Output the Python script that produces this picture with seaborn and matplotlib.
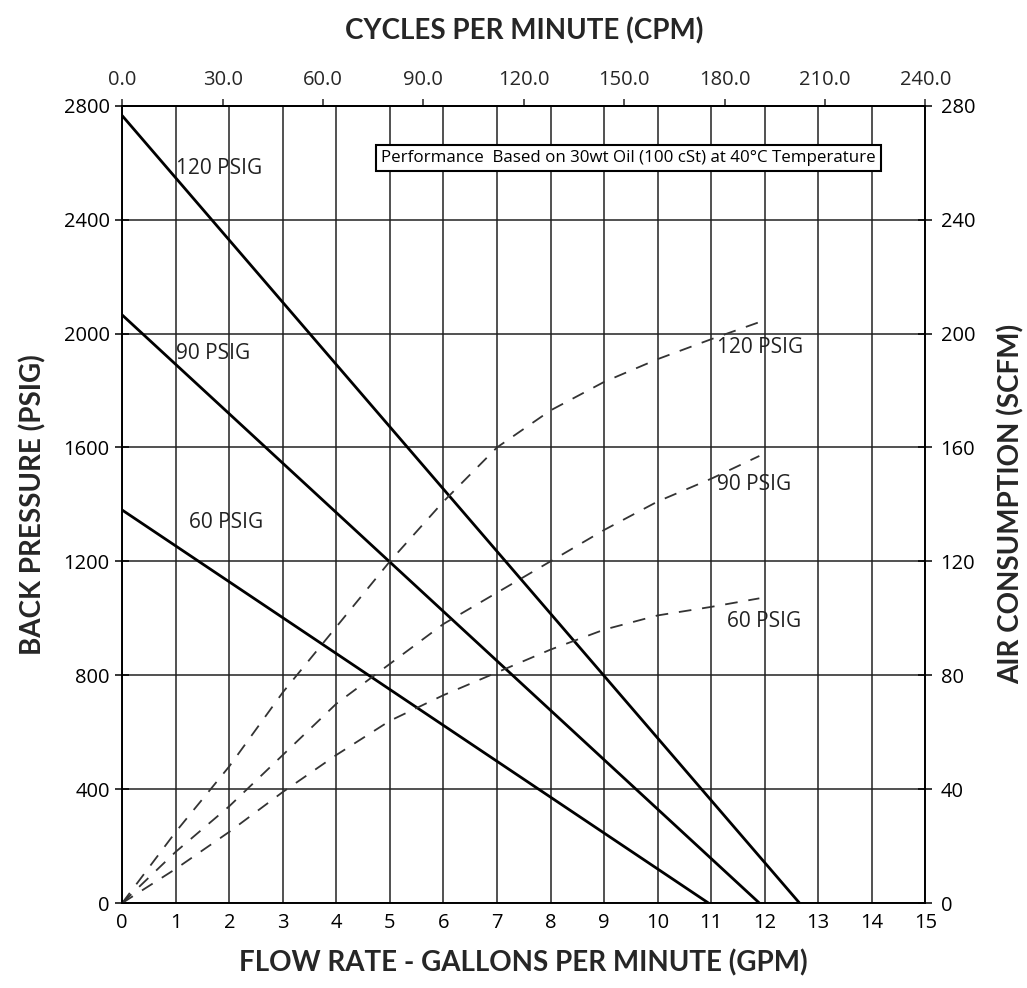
"""Pump performance chart: back pressure and air consumption vs flow rate."""

import matplotlib

matplotlib.use("Agg")
import matplotlib.pyplot as plt
import numpy as np
import pandas as pd
import seaborn as sns

# back pressure lines (left axis, PSIG) -- straight lines, start and end
PRESSURE_LABELS = ["120 PSIG", "90 PSIG", "60 PSIG"]
PRESSURE_FLOW = [[0.0, 12.65], [0.0, 11.9], [0.0, 10.95]]
PRESSURE_BACK = [[2765, 0], [2065, 0], [1380, 0]]

# air consumption curves (right axis, SCFM)
AIR_FLOW = [0, 1, 2, 3, 4, 5, 6, 7, 8, 9, 10, 11, 11.9]
AIR_120 = [0, 25, 48, 74, 97, 120, 141, 160, 173, 183, 191, 198, 204]
AIR_90 = [0, 18, 34, 52, 70, 84, 98, 109, 120, 131, 141, 149, 157]
AIR_60 = [0, 12, 25, 39, 52, 64, 73, 81, 89, 96, 101, 104, 107]

GPM_TICKS = list(range(0, 16))
PSIG_TICKS = [0, 400, 800, 1200, 1600, 2000, 2400, 2800]
SCFM_TICKS = [0, 40, 80, 120, 160, 200, 240, 280]
CPM_TICKS = [0, 30, 60, 90, 120, 150, 180, 210, 240]
CPM_PER_GPM = 16.0

NOTE = "Performance  Based on 30wt Oil (100 cSt) at 40\u00b0C Temperature"
LABEL_FONT = ["Lato", "DejaVu Sans"]

sns.set_theme(style="white")
plt.rcParams["font.family"] = ["Open Sans", "DejaVu Sans"]
plt.rcParams["axes.edgecolor"] = "black"
plt.rcParams["axes.linewidth"] = 1.2

fig = plt.figure(figsize=(10.27, 9.88), dpi=100)
ax = fig.add_axes([0.119, 0.086, 0.782, 0.807])

pressure_df = pd.concat(
    [
        pd.DataFrame({"gpm": flow, "psig": back, "series": name})
        for name, flow, back in zip(PRESSURE_LABELS, PRESSURE_FLOW, PRESSURE_BACK)
    ]
)
sns.lineplot(
    data=pressure_df,
    x="gpm",
    y="psig",
    units="series",
    estimator=None,
    color="black",
    linewidth=2.0,
    ax=ax,
)

ax.set_xlim(0, 15)
ax.set_ylim(0, 2800)
ax.set_xticks(GPM_TICKS)
ax.set_yticks(PSIG_TICKS)
ax.grid(True, color="#222222", linewidth=1.1)
ax.tick_params(axis="both", direction="inout", length=10, width=1.1, colors="black",
               labelsize=14.5, pad=4)
ax.tick_params(axis="x", pad=2)
ax.set_xlabel("FLOW RATE - GALLONS PER MINUTE (GPM)", fontsize=20, fontweight="bold",
              family=LABEL_FONT, labelpad=12)
ax.set_ylabel("BACK PRESSURE (PSIG)", fontsize=20, fontweight="bold",
              family=LABEL_FONT, labelpad=12)

ax2 = ax.twinx()
air_df = pd.concat(
    [
        pd.DataFrame({"gpm": AIR_FLOW, "scfm": vals, "series": name})
        for name, vals in zip(PRESSURE_LABELS, [AIR_120, AIR_90, AIR_60])
    ]
)
sns.lineplot(
    data=air_df,
    x="gpm",
    y="scfm",
    units="series",
    estimator=None,
    color="#333333",
    linewidth=1.3,
    linestyle=(0, (7, 6)),
    ax=ax2,
)
ax2.set_ylim(0, 280)
ax2.set_yticks(SCFM_TICKS)
ax2.grid(False)
ax2.tick_params(axis="y", direction="inout", length=10, width=1.1, colors="black",
                labelsize=14.5, pad=6)
ax2.set_ylabel("AIR CONSUMPTION (SCFM)", fontsize=20, fontweight="bold",
               family=LABEL_FONT, labelpad=16)

top = ax.secondary_xaxis(
    "top", functions=(lambda g: g * CPM_PER_GPM, lambda c: c / CPM_PER_GPM)
)
top.set_xticks(CPM_TICKS)
top.set_xticklabels([f"{c:.1f}" for c in CPM_TICKS])
top.tick_params(direction="out", length=5, width=1.1, labelsize=14.5, pad=6)
top.set_xlabel("CYCLES PER MINUTE (CPM)", fontsize=20, fontweight="bold",
               family=LABEL_FONT, labelpad=22)

# curve labels
label_kw = dict(fontsize=15, color="#222222", va="center", ha="left")
ax.text(1.0, 2580, "120 PSIG", **label_kw)
ax.text(1.0, 1930, "90 PSIG", **label_kw)
ax.text(1.25, 1335, "60 PSIG", **label_kw)
ax.text(11.1, 1950, "120 PSIG", **label_kw)
ax.text(11.1, 1470, "90 PSIG", **label_kw)
ax.text(11.3, 990, "60 PSIG", **label_kw)

ax.text(
    9.45, 2615, NOTE, fontsize=12.2, ha="center", va="center", color="black",
    bbox=dict(boxstyle="square,pad=0.3", facecolor="white", edgecolor="black", linewidth=1.5),
    zorder=5,
)

for spine in list(ax.spines.values()) + list(ax2.spines.values()):
    spine.set_color("black")

fig.savefig("out.png", dpi=100, facecolor="white")
plt.close(fig)
